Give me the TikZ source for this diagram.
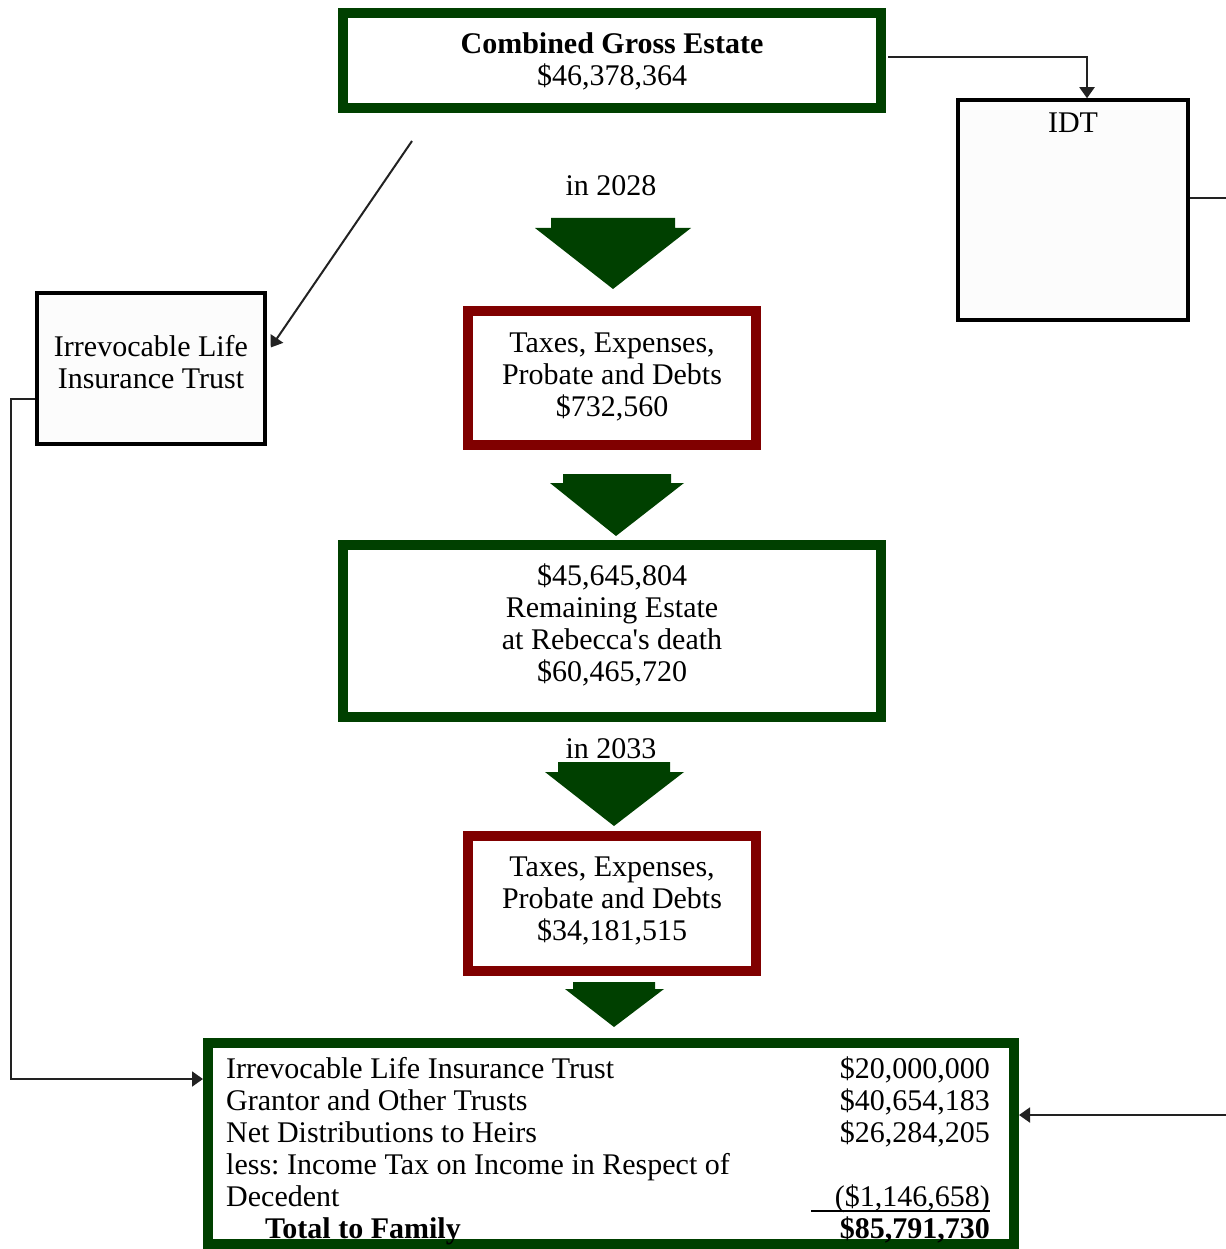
\documentclass[tikz,border=0pt]{standalone}
\usepackage{fontspec}
\setmainfont{Liberation Serif}
\usetikzlibrary{arrows.meta}
\frenchspacing
\definecolor{dgreen}{RGB}{0,64,0}
\definecolor{dred}{RGB}{128,0,0}
\definecolor{conn}{RGB}{34,34,34}
\newcommand{\bxt}[2]{\raisebox{#1}[\height][\depth]{\begin{tabular}{@{}c@{}}#2\end{tabular}}}
\tikzset{
  txt/.style={font=\fontsize{30}{32}\selectfont, inner sep=0pt, align=center},
  greenbox/.style={txt, draw=dgreen, line width=10pt, outer sep=5pt, fill=white},
  redbox/.style={txt, draw=dred, line width=10pt, outer sep=5pt, fill=white},
  plainbox/.style={txt, draw=black, line width=3.5pt, outer sep=1.75pt, fill=white!99!black},
  connector/.style={draw=conn, line width=2pt, -{Triangle[width=15pt,length=11pt]}},
  plainline/.style={draw=conn, line width=2pt},
  blockarrow/.style={fill=dgreen},
  row/.style={font=\fontsize{30}{32}\selectfont, inner sep=0pt, anchor=base west},
  rowr/.style={font=\fontsize{30}{32}\selectfont, inner sep=0pt, anchor=base east}
}
\begin{document}
\begin{tikzpicture}[x=1pt,y=-1pt]
\useasboundingbox (0,0) rectangle (1225,1249);

% boxes
\node[greenbox, minimum width=538pt, minimum height=95pt] (top) at (612,60.5)
  {\bxt{-3pt}{\textbf{Combined Gross Estate}\\\$46,378,364}};
\node[redbox, minimum width=288pt, minimum height=134pt] (tax1) at (612,378)
  {\bxt{0pt}{Taxes, Expenses,\\Probate and Debts\\\$732,560}};
\node[greenbox, minimum width=538pt, minimum height=172pt] (rem) at (612,631)
  {\bxt{4pt}{\$45,645,804\\Remaining Estate\\at Rebecca\textquotesingle s death\\\$60,465,720}};
\node[redbox, minimum width=288pt, minimum height=135pt] (tax2) at (612,903.5)
  {\bxt{1.5pt}{Taxes, Expenses,\\Probate and Debts\\\$34,181,515}};
\node[greenbox, minimum width=806pt, minimum height=201pt] (bot) at (611,1143.5) {};
\node[plainbox, minimum width=230pt, minimum height=220pt] (idt) at (1073,210) {};
\node[txt, anchor=north] (idtlabel) at ([yshift=-14pt]idt.north) {IDT};
\node[plainbox, minimum width=228pt, minimum height=151pt] (ilit) at (151,368.5)
  {\bxt{2.5pt}{Irrevocable Life\\Insurance Trust}};

% year labels
\node[txt] (y1) at (611,186) {in 2028};
\node[txt] (y2) at (611,749) {in 2033};

% block arrows
\fill[blockarrow] (551,218) -- (675,218) -- (675,228) -- (691,228) -- (613,289) -- (535,228) -- (551,228) -- cycle;
\fill[blockarrow] (563,474) -- (671,474) -- (671,483) -- (684,483) -- (616,536) -- (550,483) -- (563,483) -- cycle;
\fill[blockarrow] (558,762) -- (670,762) -- (670,772) -- (684,772) -- (614,826) -- (545,772) -- (558,772) -- cycle;
\fill[blockarrow] (573,982) -- (655,982) -- (655,989) -- (664,989) -- (614,1027) -- (565,989) -- (573,989) -- cycle;

% bottom box contents
\node[row] (l1) at (226,1078) {Irrevocable Life Insurance Trust};
\node[row] (l2) at (226,1110) {Grantor and Other Trusts};
\node[row] (l3) at (226,1142) {Net Distributions to Heirs};
\node[row] (l4) at (226,1174) {less: Income Tax on Income in Respect of};
\node[row] (l5) at (226,1206) {Decedent};
\node[row] (l6) at (265,1238) {\textbf{Total to Family}};
\node[rowr] (r1) at (990,1078) {\$20,000,000};
\node[rowr] (r2) at (990,1110) {\$40,654,183};
\node[rowr] (r3) at (990,1142) {\$26,284,205};
\node[rowr] (r5) at (990,1206) {(\$1,146,658)};
\node[rowr] (r6) at (990,1238) {\textbf{\$85,791,730}};
\coordinate (ulL) at (811,1211);
\coordinate (ulR) at (990,1211);
\draw[black, line width=2pt] (ulL) -- (ulR);

% connectors
\draw[connector] ([xshift=2pt,yshift=3.5pt]top.east) -| ([xshift=14pt]idt.north);
\coordinate (ilitfrom) at (412,141);
\draw[connector] (ilitfrom) -- ([xshift=4pt,yshift=21pt]ilit.east);
\draw[connector] ([yshift=-30.5pt]ilit.west) -- ++(-24,0) |- ([yshift=64.5pt]bot.west);
\coordinate (idtout) at (1226,198);
\draw[plainline] ([yshift=12pt]idt.east) -- (idtout);
\coordinate (botin) at (1226,1115);
\draw[connector] (botin) -- ([yshift=28.5pt]bot.east);
\end{tikzpicture}
\end{document}
